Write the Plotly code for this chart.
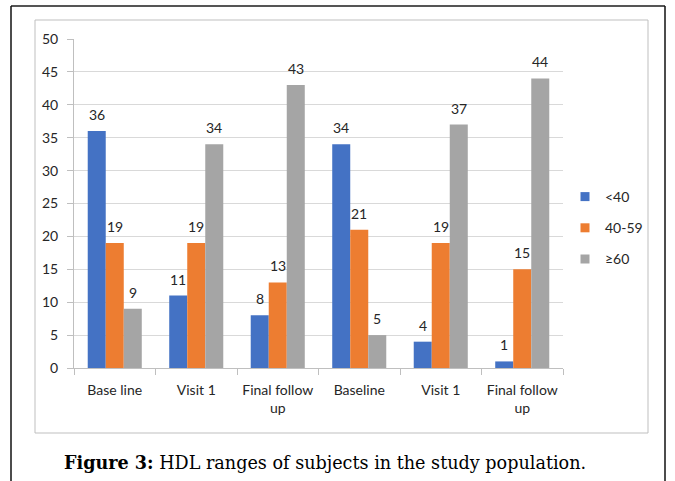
import plotly.graph_objects as go

W, H = 675, 481

categories = ["Base line", "Visit 1", "Final follow<br>up", "Baseline", "Visit 1", "Final follow<br>up"]
series_names = ["<40", "40-59", "≥60"]
below_40 = [36, 11, 8, 34, 4, 1]
from_40_to_59 = [19, 19, 13, 21, 19, 15]
above_60 = [9, 34, 43, 5, 37, 44]
y_ticks = [0, 5, 10, 15, 20, 25, 30, 35, 40, 45, 50]

colors = ["#4472C4", "#ED7D31", "#A5A5A5"]
series_values = [below_40, from_40_to_59, above_60]

BARGAP = 0.337
bar_w = (1 - BARGAP) / 3
x_idx = list(range(len(categories)))
FONT = "Lato, Noto Sans, sans-serif"
TEXT_COLOR = "#262626"

fig = go.Figure()
annotations = []
for j, (name, vals, col) in enumerate(zip(series_names, series_values, colors)):
    fig.add_trace(go.Bar(
        x=x_idx, y=vals, name=name, marker=dict(color=col, line=dict(width=0)),
        legendgroup=name, showlegend=False,
    ))
    # small square legend key for the series
    fig.add_trace(go.Scatter(
        x=[None], y=[None], mode="markers", name=name, legendgroup=name,
        marker=dict(symbol="square", size=9, color=col),
    ))
    for i, v in zip(x_idx, vals):
        annotations.append(dict(
            x=i + (j - 1) * bar_w, y=v, xref="x", yref="y", text=str(v),
            showarrow=False, yanchor="bottom", yshift=6,
            font=dict(family=FONT, size=14, color=TEXT_COLOR),
        ))


def px(x):
    return x / W


def py(y):
    return 1 - y / H


# caption below the chart
annotations.append(dict(
    x=px(325), y=py(462), xref="paper", yref="paper", xanchor="center", yanchor="middle",
    text="<b>Figure 3:</b> HDL ranges of subjects in the study population.",
    showarrow=False, font=dict(family="DejaVu Serif, serif", size=17.6, color="#000000"),
))

shapes = [
    # outer frame
    dict(type="line", xref="paper", yref="paper", x0=px(11), x1=px(665), y0=py(6), y1=py(6),
         line=dict(color="#555555", width=2)),
    dict(type="line", xref="paper", yref="paper", x0=px(11), x1=px(11), y0=py(6), y1=py(481),
         line=dict(color="#111111", width=1.5)),
    dict(type="line", xref="paper", yref="paper", x0=px(665), x1=px(665), y0=py(6), y1=py(481),
         line=dict(color="#111111", width=1.5)),
    # chart border
    dict(type="rect", xref="paper", yref="paper", x0=px(35), x1=px(648), y0=py(20), y1=py(433),
         line=dict(color="#BFBFBF", width=1)),
]

fig.update_layout(
    width=W, height=H,
    margin=dict(l=0, r=0, t=0, b=0, pad=0, autoexpand=False),
    paper_bgcolor="white", plot_bgcolor="white",
    barmode="group", bargap=BARGAP, bargroupgap=0,
    font=dict(family=FONT, size=14, color=TEXT_COLOR),
    xaxis=dict(
        domain=[px(74), px(563)], range=[-0.5, len(categories) - 0.5],
        tickvals=x_idx, ticktext=categories, ticks="", showgrid=False, zeroline=False,
        showline=True, linecolor="#BFBFBF", linewidth=1, ticklabelstandoff=9,
        minor=dict(tick0=-0.5, dtick=1, ticks="outside", ticklen=6, tickcolor="#BFBFBF", showgrid=False),
        tickfont=dict(size=14), automargin=False,
    ),
    yaxis=dict(
        domain=[py(368), py(39)], range=[0, 50], tickvals=y_ticks,
        showgrid=True, gridcolor="#D9D9D9", gridwidth=1, zeroline=False,
        showline=True, linecolor="#BFBFBF", linewidth=1,
        ticks="outside", ticklen=6, tickcolor="#BFBFBF", ticklabelstandoff=6,
        tickfont=dict(size=14), automargin=False,
    ),
    legend=dict(
        x=px(565), y=py(181), xanchor="left", yanchor="top",
        font=dict(size=14), tracegroupgap=10, itemwidth=30,
        bgcolor="rgba(0,0,0,0)",
    ),
    annotations=annotations,
    shapes=shapes,
)

fig.write_html("out.html")
